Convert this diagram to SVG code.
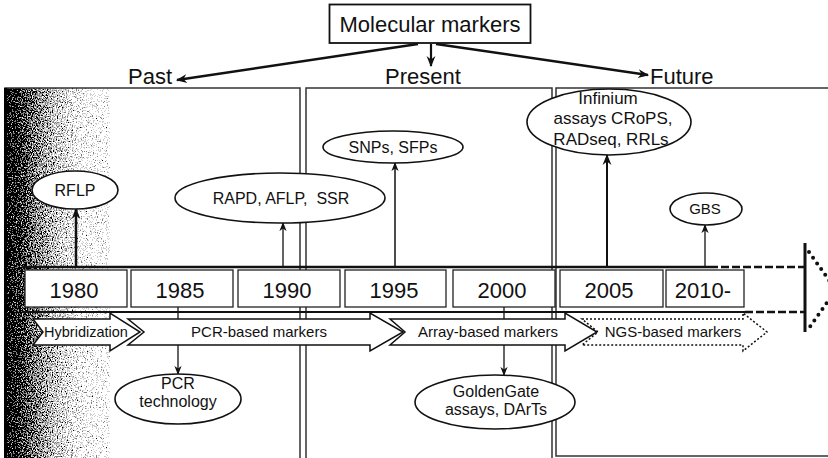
<svg xmlns="http://www.w3.org/2000/svg" width="828" height="458" viewBox="0 0 828 458">
<defs>
  <linearGradient id="pastGrad" x1="0" y1="0" x2="1" y2="0">
    <stop offset="0" stop-color="#000"/>
    <stop offset="0.12" stop-color="#141414"/>
    <stop offset="0.3" stop-color="#666"/>
    <stop offset="0.5" stop-color="#ababab"/>
    <stop offset="0.72" stop-color="#e6e6e6"/>
    <stop offset="1" stop-color="#fff"/>
  </linearGradient>
  <filter id="dither" filterUnits="userSpaceOnUse" x="5" y="88" width="105" height="372" color-interpolation-filters="sRGB">
    <feTurbulence type="fractalNoise" baseFrequency="0.8" numOctaves="2" seed="3" result="n"/>
    <feColorMatrix in="n" type="matrix" values="1 0 0 0 0  1 0 0 0 0  1 0 0 0 0  0 0 0 0 1" result="ng"/>
    <feComposite in="SourceGraphic" in2="ng" operator="arithmetic" k1="0" k2="1" k3="2.2" k4="-1.1" result="s"/>
    <feComponentTransfer in="s">
      <feFuncR type="discrete" tableValues="0 0.5 0.8 1"/>
      <feFuncG type="discrete" tableValues="0 0.5 0.8 1"/>
      <feFuncB type="discrete" tableValues="0 0.5 0.8 1"/>
      <feFuncA type="linear" slope="0" intercept="1"/>
    </feComponentTransfer>
  </filter>
  <marker id="ah" viewBox="0 0 10 10" refX="9" refY="5" markerWidth="11" markerHeight="11" markerUnits="userSpaceOnUse" orient="auto">
    <path d="M0,1 L10,5 L0,9 L3,5 Z" fill="#111"/>
  </marker>
  <marker id="ahs" viewBox="0 0 10 10" refX="9" refY="5" markerWidth="9" markerHeight="9" markerUnits="userSpaceOnUse" orient="auto">
    <path d="M0,1 L10,5 L0,9 L3,5 Z" fill="#111"/>
  </marker>
</defs>
<style>
  text{font-family:"Liberation Sans",Arial,sans-serif;fill:#111}
  .hdr{font-size:22px}
  .yr{font-size:22px;text-anchor:middle}
  .lbl{font-size:16px;text-anchor:middle}
  .mk{font-size:15px;text-anchor:middle}
  .box{fill:#fff;stroke:#222;stroke-width:1.3}
  .ov{fill:#fff;stroke:#111;stroke-width:1.6}
  .pan{fill:none;stroke:#333;stroke-width:1.5}
  .arr{fill:#fff;stroke:#111;stroke-width:1.5;stroke-linejoin:miter}
  .arrd{fill:#fff;stroke:#111;stroke-width:1.5;stroke-dasharray:2 2}
  .con{stroke:#111;fill:none}
</style>
<rect width="828" height="458" fill="#fff"/>

<g id="panels">
  <rect x="5" y="88" width="105" height="372" fill="url(#pastGrad)" filter="url(#dither)"/>
  <path class="pan" d="M5,460 V88 H300 V460"/>
  <path class="pan" d="M306,460 V88 H552 V460"/>
  <path class="pan" d="M830,88 H556 V456 H830"/>
  <line x1="5.5" y1="88" x2="5.5" y2="460" stroke="#000" stroke-width="3"/>
</g>

<g id="timeline">
  <path d="M22,267 H710" stroke="#111" stroke-width="2.5" fill="none"/>
  <path d="M710,267 H805" stroke="#111" stroke-width="2.5" stroke-dasharray="8 3" fill="none"/>
  <path d="M22,312 H745" stroke="#111" stroke-width="2" fill="none"/>
  <path d="M745,312 H805" stroke="#111" stroke-width="2.5" stroke-dasharray="8 3" fill="none"/>
  <line x1="805" y1="243" x2="805" y2="332" stroke="#111" stroke-width="3"/>
  <polyline points="809,252 836,290 809,328" fill="none" stroke="#111" stroke-width="4" stroke-dasharray="0 7" stroke-linecap="round"/>
</g>

<g id="connectors">
  <line class="con" x1="418" y1="44" x2="177" y2="80" stroke-width="2.5" marker-end="url(#ah)"/>
  <line class="con" x1="431" y1="44" x2="431" y2="66" stroke-width="2.2" marker-end="url(#ah)"/>
  <line class="con" x1="436" y1="44" x2="648" y2="75" stroke-width="2.5" marker-end="url(#ah)"/>
  <line class="con" x1="76" y1="267" x2="76" y2="209" stroke-width="2.5" marker-end="url(#ah)"/>
  <line class="con" x1="283" y1="267" x2="283" y2="223" stroke-width="1.3" marker-end="url(#ahs)"/>
  <line class="con" x1="395" y1="267" x2="395" y2="163" stroke-width="1.5" marker-end="url(#ahs)"/>
  <line class="con" x1="607" y1="267" x2="607" y2="155" stroke-width="2" marker-end="url(#ah)"/>
  <line class="con" x1="705" y1="267" x2="705" y2="225" stroke-width="1.3" marker-end="url(#ahs)"/>
  <line class="con" x1="178" y1="307" x2="178" y2="374" stroke-width="1.3" marker-end="url(#ahs)"/>
  <line class="con" x1="504" y1="307" x2="504" y2="375" stroke-width="1.3" marker-end="url(#ahs)"/>
</g>

<g id="title">
  <rect x="329.5" y="4.5" width="201" height="38.5" fill="#fff" stroke="#111" stroke-width="1.8"/>
  <text class="hdr" x="430" y="32" text-anchor="middle">Molecular markers</text>
</g>
<g id="past-label"><text class="hdr" x="128" y="84">Past</text></g>
<g id="present-label"><text class="hdr" x="385" y="84">Present</text></g>
<g id="future-label"><text class="hdr" x="650" y="84">Future</text></g>

<g id="y1980"><rect class="box" x="25" y="270" width="102" height="37"/><text class="yr" x="74" y="298">1980</text></g>
<g id="y1985"><rect class="box" x="131" y="270" width="102" height="37"/><text class="yr" x="180" y="298">1985</text></g>
<g id="y1990"><rect class="box" x="238" y="270" width="102" height="37"/><text class="yr" x="287" y="298">1990</text></g>
<g id="y1995"><rect class="box" x="345" y="270" width="101" height="37"/><text class="yr" x="394" y="298">1995</text></g>
<g id="y2000"><rect class="box" x="453" y="270" width="102" height="37"/><text class="yr" x="502" y="298">2000</text></g>
<g id="y2005"><rect class="box" x="560" y="270" width="103" height="37"/><text class="yr" x="609" y="298">2005</text></g>
<g id="y2010"><rect class="box" x="666" y="270" width="78" height="37"/><text class="yr" x="703" y="298">2010-</text></g>

<g id="hybridization">
  <path class="arr" d="M33,319 H110 V313 L140,332 L110,351 V345 H33 L43,332 Z"/>
  <text class="mk" x="86" y="337" style="font-size:14.5px">Hybridization</text>
</g>
<g id="pcr-based">
  <path class="arr" d="M128,319 H370 V313 L403,332 L370,351 V345 H128 L144,332 Z"/>
  <text class="mk" x="259" y="337">PCR-based markers</text>
</g>
<g id="array-based">
  <path class="arr" d="M390,319 H565 V313 L597,332 L565,351 V345 H390 L405,332 Z"/>
  <text class="mk" x="488" y="337">Array-based markers</text>
</g>
<g id="ngs-based">
  <path class="arrd" d="M582,319 H743 V313 L767,332 L743,351 V345 H582 L598,332 Z"/>
  <text class="mk" x="673" y="337">NGS-based markers</text>
</g>

<g id="rflp"><ellipse class="ov" cx="75" cy="190" rx="43" ry="19"/><text class="lbl" x="75" y="196">RFLP</text></g>
<g id="rapd"><ellipse class="ov" cx="280" cy="198" rx="105" ry="25"/><text class="lbl" x="281" y="204" xml:space="preserve">RAPD, AFLP,  SSR</text></g>
<g id="snps"><ellipse class="ov" cx="393" cy="147" rx="70" ry="16"/><text class="lbl" x="393" y="153">SNPs, SFPs</text></g>
<g id="infinium"><ellipse class="ov" cx="609" cy="122" rx="82" ry="33"/>
  <text class="lbl" x="608" y="104" style="font-size:17px">Infinium</text>
  <text class="lbl" x="613" y="124" style="font-size:17px">assays CRoPS,</text>
  <text class="lbl" x="611" y="145" style="font-size:17px">RADseq, RRLs</text>
</g>
<g id="gbs"><ellipse class="ov" cx="706" cy="209" rx="36" ry="16"/><text class="lbl" x="705" y="214" style="font-size:15px">GBS</text></g>
<g id="pcr-tech"><ellipse class="ov" cx="178" cy="399" rx="63" ry="25"/>
  <text class="lbl" x="178" y="389">PCR</text>
  <text class="lbl" x="178" y="407">technology</text>
</g>
<g id="goldengate"><ellipse class="ov" cx="495" cy="402" rx="80" ry="27"/>
  <text class="lbl" x="496" y="397">GoldenGate</text>
  <text class="lbl" x="496" y="415">assays, DArTs</text>
</g>
</svg>
